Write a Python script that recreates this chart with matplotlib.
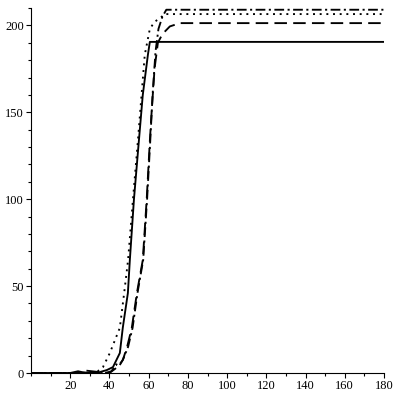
import numpy as np
import matplotlib
matplotlib.use("Agg")
from matplotlib import pyplot as plt
from matplotlib.ticker import MultipleLocator

# curves (x, y)
solid_x = [0, 20, 24, 26, 30, 35, 38.7, 41.8, 45.3, 46.8, 49.4, 50.4, 52.5, 55, 57, 59.6, 60.6, 180]
solid_y = [0, 0, 1, 0.5, 0, 0.5, 1.7, 3.4, 11.5, 26, 46, 65, 100, 133.5, 160, 183, 190.5, 190.5]

dot_x = [0, 30, 34, 36.7, 40.2, 45.3, 47.5, 49.5, 52, 54.5, 58, 60.6, 63, 66.7, 68, 180]
dot_y = [0, 0, 1, 3.4, 11.5, 26, 46, 65, 100, 133.5, 183, 198, 202, 205, 206.5, 206.5]

dash_x = [0, 25, 27, 35, 40, 43, 44.5, 46.8, 49, 51.4, 54, 57, 59, 60.6, 61.5, 63, 64.7, 67, 70.8, 75.9, 180]
dash_y = [0, 0, 1.5, 0.5, 0, 2.5, 4, 7.4, 15, 26, 46, 65, 100, 133.5, 150, 175, 190, 195, 199.4, 201.3, 201.3]

dd_x = [0, 38, 41, 43.5, 45, 47, 49.5, 51.8, 54.3, 57.2, 59.2, 60.8, 62, 63.5, 65, 67, 69, 180]
dd_y = [0, 0, 1, 5, 4, 8, 15, 26, 46, 65, 100, 133.5, 160, 185, 198, 205, 209, 209]

plt.rcParams['font.family'] = ['Liberation Serif', 'DejaVu Serif']
plt.rcParams['lines.scale_dashes'] = False

fig = plt.figure(figsize=(4, 4), dpi=100)
ax = fig.add_axes([0.0775, 0.0675, 0.8825, 0.9125])

lw = 1.35
ax.plot(solid_x, solid_y, color='black', lw=lw, linestyle='-')
ax.plot(dot_x, dot_y, color='black', lw=lw, linestyle=(0, (1.4, 3.4)))
ax.plot(dash_x, dash_y, color='black', lw=lw, linestyle=(0, (9, 4.5)))
ax.plot(dd_x, dd_y, color='black', lw=lw, linestyle=(0, (7, 2.5, 1.5, 2.5)))

ax.set_xlim(0, 180)
ax.set_ylim(0, 210)
ax.spines['top'].set_visible(False)
ax.spines['right'].set_visible(False)
for s in ['left', 'bottom']:
    ax.spines[s].set_linewidth(0.8)
    ax.spines[s].set_clip_on(False)

ax.set_xticks(np.arange(20, 181, 20))
ax.set_yticks(np.arange(0, 201, 50))
ax.xaxis.set_minor_locator(MultipleLocator(10))
ax.yaxis.set_minor_locator(MultipleLocator(10))
ax.tick_params(which='major', direction='out', length=3.5, width=0.8, labelsize=9, pad=1.5)
ax.tick_params(which='minor', direction='out', length=2, width=0.8)

fig.savefig("out.png", dpi=100)
